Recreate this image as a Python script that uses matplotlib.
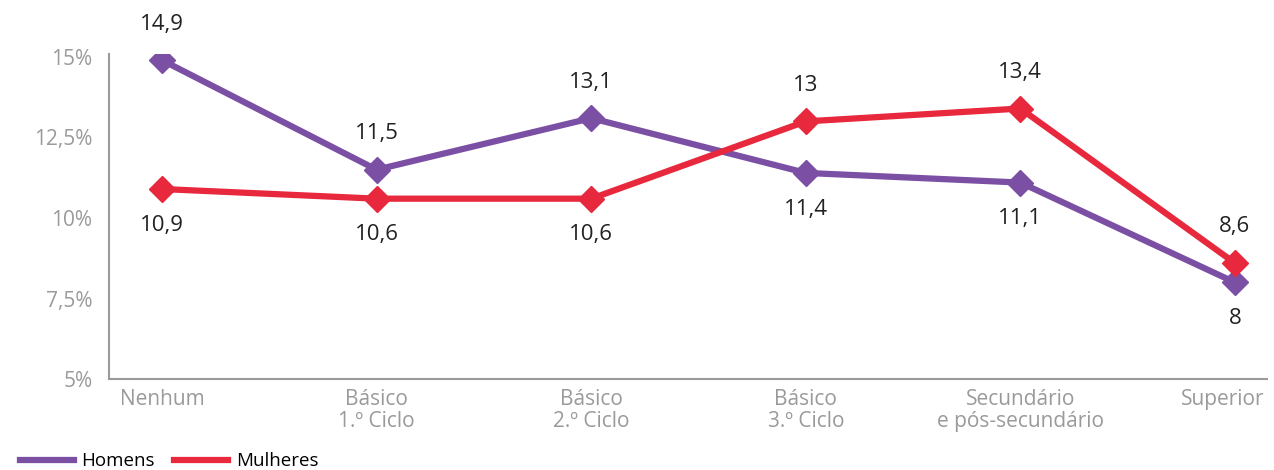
import numpy as np
import matplotlib.pyplot as plt
from matplotlib.transforms import ScaledTranslation

# Data
categorias = ['Nenhum', 'Básico\n1.º Ciclo', 'Básico\n2.º Ciclo', 'Básico\n3.º Ciclo',
              'Secundário\ne pós-secundário', 'Superior']
homens = [14.9, 11.5, 13.1, 11.4, 11.1, 8.0]
mulheres = [10.9, 10.6, 10.6, 13.0, 13.4, 8.6]
# label position: +1 above the point, -1 below
pos_homens = [1, 1, 1, -1, -1, -1]
pos_mulheres = [-1, -1, -1, 1, 1, 1]
yticks = [5, 7.5, 10, 12.5, 15]
yticklabels = ['5%', '7,5%', '10%', '12,5%', '15%']

cor_h = '#7b4fa3'
cor_m = '#e8283c'
cinza = '#9a9a9a'

plt.rcParams['font.family'] = ['Open Sans', 'DejaVu Sans']

fig = plt.figure(figsize=(12.74, 4.70), dpi=100)
ax = fig.add_axes([0.0856, 0.1936, 0.909, 0.692])

x = np.arange(len(categorias))
ax.plot(x, homens, color=cor_h, lw=4.5, marker='D', ms=13, label='Homens', zorder=3)
ax.plot(x, mulheres, color=cor_m, lw=4.5, marker='D', ms=13, label='Mulheres', zorder=3)

def fmt(v):
    s = ('%.1f' % v).rstrip('0').rstrip('.')
    return s.replace('.', ',')

for serie, pos in [(homens, pos_homens), (mulheres, pos_mulheres)]:
    for xi, v, p in zip(x, serie, pos):
        ax.annotate(fmt(v), (xi, v), xytext=(0, 26 * p), textcoords='offset points',
                    ha='center', va='center', fontsize=16, color='#222222')

ax.set_xlim(-0.247, 5.15)
ax.set_ylim(5, 15.1)
ax.set_xticks(x)
ax.set_xticklabels(categorias, fontsize=15, color=cinza, linespacing=1.1)
ax.set_yticks(yticks)
ax.set_yticklabels(yticklabels, fontsize=15, color=cinza)
ax.tick_params(length=0, pad=7)
ax.tick_params(axis='y', pad=12)

# last label sits a little left so it stays inside the figure
last = ax.get_xticklabels()[-1]
last.set_transform(last.get_transform() + ScaledTranslation(-12 / 100, 0, fig.dpi_scale_trans))

for s in ['top', 'right']:
    ax.spines[s].set_visible(False)
for s in ['left', 'bottom']:
    ax.spines[s].set_color(cinza)
    ax.spines[s].set_linewidth(1.5)

ax.legend(loc='lower left', bbox_to_anchor=(0.014, -0.005), bbox_transform=fig.transFigure,
          ncol=2, frameon=False, fontsize=13.5, handlelength=2.9, handletextpad=0.4,
          columnspacing=1.0, borderaxespad=0.0, borderpad=0.1)
leg = ax.get_legend()
for h in leg.legend_handles:
    h.set_marker('')

plt.savefig('out.png', dpi=100)
